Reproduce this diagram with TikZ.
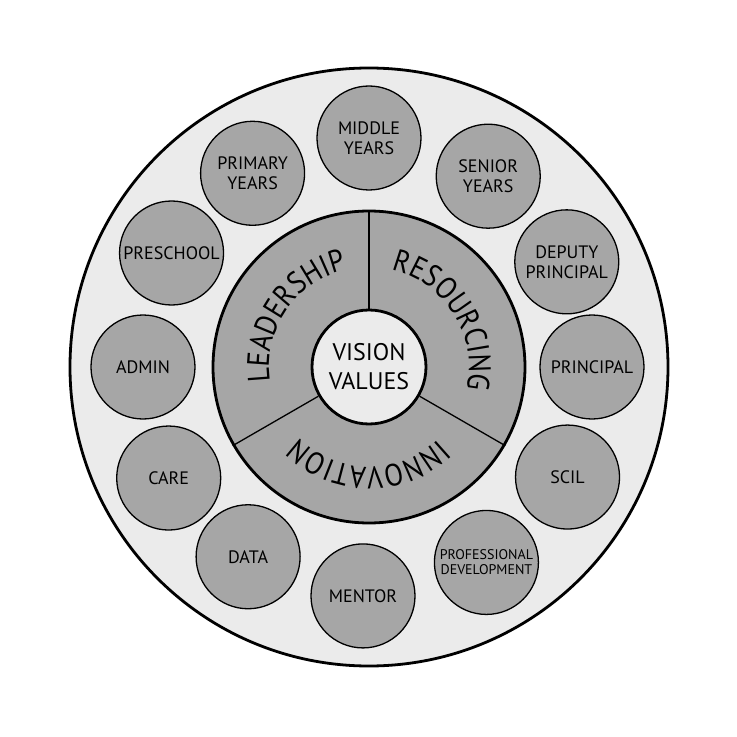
\documentclass[tikz,border=0pt]{standalone}
\usepackage{fontspec}
\setmainfont{PT Sans}
\newfontfamily\ringfamily[FakeStretch=0.88]{PT Sans}
\newcommand\ringfont{\ringfamily\fontsize{31pt}{31pt}\selectfont}
\usetikzlibrary{decorations.text}
\definecolor{unitgray}{gray}{0.65}
\definecolor{palegray}{gray}{0.92}
\tikzset{
  rim/.style={circle, draw, line width=2.8pt, fill=palegray, minimum size=598pt, inner sep=0pt},
  unit/.style={circle, draw, line width=1.3pt, fill=unitgray, minimum size=104pt, inner sep=0pt,
    align=center, font=\fontsize{18pt}{20pt}\selectfont},
  ring/.style={circle, draw, line width=2.8pt, fill=unitgray, minimum size=312pt, inner sep=0pt},
  core/.style={circle, draw, line width=2.8pt, fill=palegray, minimum size=114pt, inner sep=0pt,
    align=center, font=\fontsize{24pt}{29pt}\selectfont},
  ringtext/.style={decorate, decoration={text along path, text align=center, text={|\ringfont|#1}}}
}
\begin{document}
\begin{tikzpicture}[x=1pt, y=1pt]
  \useasboundingbox (-369,-370) rectangle (368,367);
  \node[rim] (rim) at (0,0) {};
  % units round the ring
  \node[unit] (middle)    at (90:229)   {MIDDLE\\YEARS};
  \node[unit] (senior)    at (58:225)   {SENIOR\\YEARS};
  \node[unit] (deputy)    at (28:224)   {DEPUTY\\PRINCIPAL};
  \node[unit] (principal) at (0:223)    {PRINCIPAL};
  \node[unit] (scil)      at (-29:227)  {SCIL};
  \node[unit, font=\fontsize{14pt}{15pt}\selectfont] (profdev) at (-59:228) {PROFESSIONAL\\DEVELOPMENT};
  \node[unit] (mentor)    at (-91.5:229) {MENTOR};
  \node[unit] (data)      at (-122.5:225) {DATA};
  \node[unit] (care)      at (-151:229) {CARE};
  \node[unit] (admin)     at (180:226)  {ADMIN};
  \node[unit] (preschool) at (150:228)  {PRESCHOOL};
  \node[unit] (primary)   at (121:226)  {PRIMARY\\YEARS};
  % inner ring and centre
  \node[ring] (ring) at (0,0) {};
  \node[core] (core) at (0,0) {VISION\\VALUES};
  \draw[line width=1.3pt] (core.90) -- (ring.90);
  \draw[line width=1.3pt] (core.210) -- (ring.210);
  \draw[line width=1.3pt] (core.330) -- (ring.330);
  \path[ringtext=LEADERSHIP] (205:100) arc[start angle=205, end angle=86, radius=100];
  \path[ringtext=RESOURCING] (85:100) arc[start angle=85, end angle=-21, radius=100];
  \path[ringtext=INNOVATION] (-30:100) arc[start angle=-30, end angle=-151, radius=100];
\end{tikzpicture}
\end{document}
